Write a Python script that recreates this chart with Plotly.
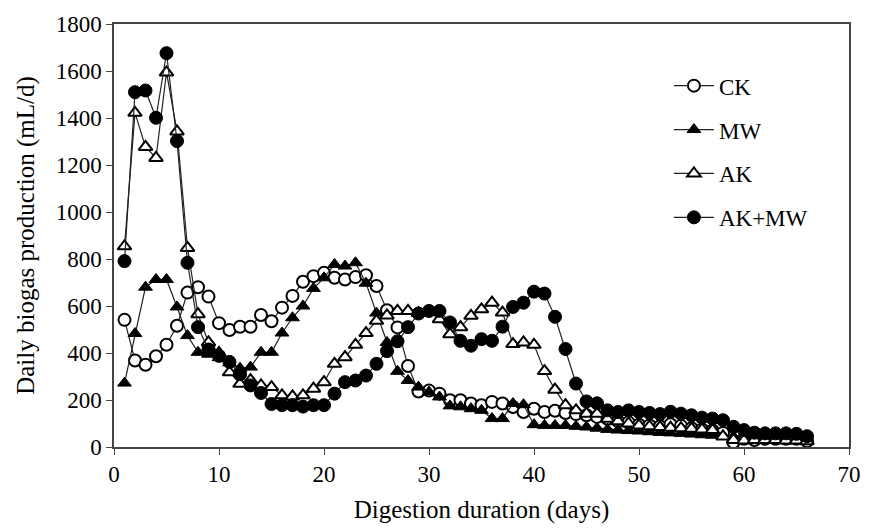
import plotly.graph_objects as go

days = list(range(1, 67))

ck = [541, 368, 350, 386, 435, 516, 657, 680, 640, 527, 498, 512, 512, 562, 535, 593, 643, 703, 727, 741,
      720, 713, 723, 731, 685, 582, 509, 345, 236, 240, 227, 199, 199, 185, 178, 192, 185, 170, 149, 163,
      149, 154, 145, 140, 135, 128, 120, 110, 105, 95, 92, 88, 97, 90, 80, 75, 70, 60, 20, 35,
      30, 35, 35, 35, 35, 25]

mw = [272, 483, 680, 713, 713, 596, 474, 403, 395, 380, 358, 335, 340, 403, 403, 485, 550, 600, 675, 720,
      777, 770, 784, 697, 570, 445, 322, 283, 255, 234, 213, 175, 171, 163, 156, 121, 121, 185, 180, 95,
      92, 92, 92, 88, 85, 80, 75, 72, 70, 68, 65, 62, 60, 58, 55, 52, 50, 48, 45, 42,
      40, 38, 36, 35, 33, 30]

ak = [854, 1422, 1277, 1230, 1594, 1343, 847, 565, 445, 400, 318, 269, 285, 262, 255, 220, 215, 220, 248, 276,
      354, 382, 435, 485, 537, 560, 579, 579, 570, 575, 544, 480, 510, 558, 586, 614, 572, 438, 445, 435,
      323, 244, 178, 156, 142, 142, 120, 110, 100, 92, 88, 85, 82, 80, 78, 75, 72, 45, 30, 28,
      30, 30, 30, 28, 28, 25]

akmw = [791, 1510, 1517, 1401, 1676, 1302, 784, 510, 415, 388, 362, 310, 262, 230, 183, 178, 178, 172, 178, 178,
        227, 276, 283, 304, 354, 408, 450, 510, 568, 579, 579, 530, 452, 431, 459, 452, 512, 596, 614, 661,
        653, 554, 417, 270, 194, 186, 156, 149, 156, 149, 145, 140, 150, 142, 135, 125, 121, 114, 86, 72,
        61, 58, 58, 58, 56, 46]

x_ticks = [0, 10, 20, 30, 40, 50, 60, 70]
y_ticks = [0, 200, 400, 600, 800, 1000, 1200, 1400, 1600, 1800]

FONT = "Liberation Serif, Times New Roman, serif"
LINE = "#222222"

series = [("CK", ck), ("MW", mw), ("AK", ak), ("AK+MW", akmw)]

fig = go.Figure()
for name, vals in series:
    if name == "CK":
        marker = dict(symbol="circle", size=12, color="white", line=dict(color="black", width=2))
    elif name == "AK":
        marker = dict(symbol="triangle-up", size=12, color="white", line=dict(color="black", width=2))
    elif name == "MW":
        marker = dict(symbol="triangle-up", size=12, color="black", line=dict(color="black", width=1))
    else:
        marker = dict(symbol="circle", size=13, color="black", line=dict(color="black", width=1))
    fig.add_trace(go.Scatter(
        x=days, y=vals, name=name, mode="lines+markers",
        line=dict(color=LINE, width=1.2), marker=marker,
        legendgroup=name,
    ))

axis_common = dict(
    showline=True, linecolor="#444444", linewidth=1.5, mirror=True,
    ticks="outside", ticklen=6, tickcolor="#444444", tickwidth=1.2,
    showgrid=False, zeroline=False,
    tickfont=dict(family=FONT, size=23, color="black"),
)

fig.update_xaxes(
    range=[0, 70], tickvals=x_ticks, ticktext=[str(v) for v in x_ticks],
    title=dict(text="Digestion duration (days)", font=dict(family=FONT, size=25, color="black"), standoff=14),
    **axis_common,
)
fig.update_yaxes(
    range=[0, 1800], tickvals=y_ticks, ticktext=[str(v) for v in y_ticks],
    title=dict(text="Daily biogas production (mL/d)", font=dict(family=FONT, size=25, color="black"), standoff=14),
    **axis_common,
)

fig.update_layout(
    width=873, height=532,
    margin=dict(l=114, r=18, t=22, b=85),
    paper_bgcolor="white", plot_bgcolor="white",
    font=dict(family=FONT, color="black"),
    legend=dict(
        x=0.755, y=0.905, xanchor="left", yanchor="top",
        font=dict(family=FONT, size=23, color="black"),
        bgcolor="rgba(0,0,0,0)", tracegroupgap=11,
        itemwidth=40,
    ),
)

fig.write_html("out.html")
